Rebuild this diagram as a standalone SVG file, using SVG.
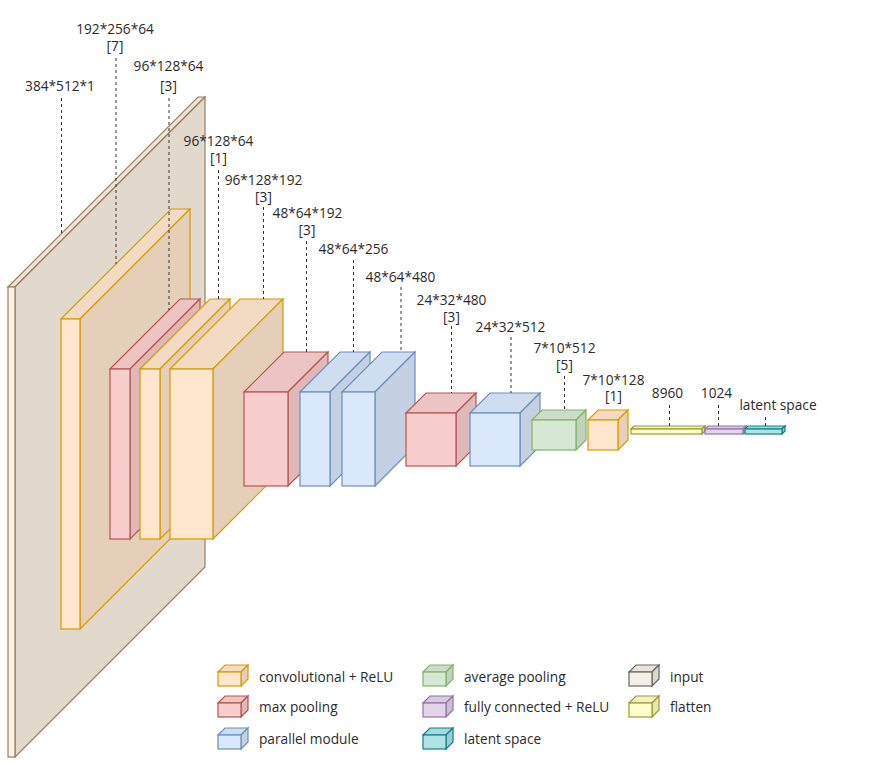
<svg xmlns="http://www.w3.org/2000/svg" width="869" height="763" viewBox="0 0 869 763">
<style>
text{font-family:"Open Sans","Noto Sans","Liberation Sans",sans-serif;font-size:13.7px;fill:#2b2b2b}
.lbl{text-anchor:middle}
.cube rect,.cube polygon{stroke-width:1.2;stroke-linejoin:miter}
.in rect{fill:#fbf3e6;stroke:#9c7d5e}.in .t{fill:#f0e6d6;stroke:#9c7d5e}.in .s{fill:#e1d9cb;stroke:#9c7d5e}
.cv rect{fill:#ffe6cc;stroke:#d79b00}.cv .t{fill:#f2dbc2;stroke:#d79b00}.cv .s{fill:#e6cfb8;stroke:#d79b00}
.mp rect{fill:#f8cecc;stroke:#b85450}.mp .t{fill:#ecc4c2;stroke:#b85450}.mp .s{fill:#dfb9b8;stroke:#b85450}
.pm rect{fill:#dae8fc;stroke:#6c8ebf}.pm .t{fill:#cfddf0;stroke:#6c8ebf}.pm .s{fill:#c4d1e3;stroke:#6c8ebf}
.ap rect{fill:#d5e8d4;stroke:#82b366}.ap .t{fill:#cbddca;stroke:#82b366}.ap .s{fill:#c0d1bf;stroke:#82b366}
.fl rect{fill:#ffffcc;stroke:#999933}.fl .t{fill:#f2f2c2;stroke:#999933}.fl .s{fill:#e6e6b8;stroke:#999933}
.fc rect{fill:#e1d5e7;stroke:#9673a6}.fc .t{fill:#d6cadb;stroke:#9673a6}.fc .s{fill:#cbc0d0;stroke:#9673a6}
.ls rect{fill:#b0e3e6;stroke:#0e8088}.ls .t{fill:#a7d8db;stroke:#0e8088}.ls .s{fill:#9eccce;stroke:#0e8088}
.lin rect{fill:#f5f0e6;stroke:#666666}.lin .t{fill:#e9e4db;stroke:#666666}.lin .s{fill:#dcd8cf;stroke:#666666}
#connectors line{stroke:#333333;stroke-width:1;stroke-dasharray:3 3;fill:none}
</style>
<g id="nodes">
<g id="input" class="cube in" transform="translate(8,287)">
<polygon class="t" points="0,0 190,-190 197,-190 7,0"/>
<polygon class="s" points="7,0 197,-190 197,280 7,470"/>
<rect x="0" y="0" width="7" height="470"/>
</g>
<g id="conv1" class="cube cv" transform="translate(61,319)">
<polygon class="t" points="0,0 110,-110 129,-110 19,0"/>
<polygon class="s" points="19,0 129,-110 129,200 19,310"/>
<rect x="0" y="0" width="19" height="310"/>
</g>
<g id="pool1" class="cube mp" transform="translate(110,369)">
<polygon class="t" points="0,0 70,-70 90,-70 20,0"/>
<polygon class="s" points="20,0 90,-70 90,100 20,170"/>
<rect x="0" y="0" width="20" height="170"/>
</g>
<g id="conv2" class="cube cv" transform="translate(140,369)">
<polygon class="t" points="0,0 70,-70 90,-70 20,0"/>
<polygon class="s" points="20,0 90,-70 90,100 20,170"/>
<rect x="0" y="0" width="20" height="170"/>
</g>
<g id="conv3" class="cube cv" transform="translate(170,369)">
<polygon class="t" points="0,0 70,-70 113,-70 43,0"/>
<polygon class="s" points="43,0 113,-70 113,100 43,170"/>
<rect x="0" y="0" width="43" height="170"/>
</g>
<g id="pool2" class="cube mp" transform="translate(244,392)">
<polygon class="t" points="0,0 40,-40 84,-40 44,0"/>
<polygon class="s" points="44,0 84,-40 84,54 44,94"/>
<rect x="0" y="0" width="44" height="94"/>
</g>
<g id="parallel1" class="cube pm" transform="translate(300,392)">
<polygon class="t" points="0,0 40,-40 70,-40 30,0"/>
<polygon class="s" points="30,0 70,-40 70,54 30,94"/>
<rect x="0" y="0" width="30" height="94"/>
</g>
<g id="parallel2" class="cube pm" transform="translate(342,392)">
<polygon class="t" points="0,0 40,-40 73,-40 33,0"/>
<polygon class="s" points="33,0 73,-40 73,54 33,94"/>
<rect x="0" y="0" width="33" height="94"/>
</g>
<g id="pool3" class="cube mp" transform="translate(406,413)">
<polygon class="t" points="0,0 20,-20 70,-20 50,0"/>
<polygon class="s" points="50,0 70,-20 70,33 50,53"/>
<rect x="0" y="0" width="50" height="53"/>
</g>
<g id="parallel3" class="cube pm" transform="translate(470,413)">
<polygon class="t" points="0,0 20,-20 70,-20 50,0"/>
<polygon class="s" points="50,0 70,-20 70,33 50,53"/>
<rect x="0" y="0" width="50" height="53"/>
</g>
<g id="avgpool" class="cube ap" transform="translate(532,420)">
<polygon class="t" points="0,0 10,-10 54,-10 44,0"/>
<polygon class="s" points="44,0 54,-10 54,20 44,30"/>
<rect x="0" y="0" width="44" height="30"/>
</g>
<g id="conv4" class="cube cv" transform="translate(588,420)">
<polygon class="t" points="0,0 10,-10 40,-10 30,0"/>
<polygon class="s" points="30,0 40,-10 40,20 30,30"/>
<rect x="0" y="0" width="30" height="30"/>
</g>
<g id="flatten" class="cube fl" transform="translate(631,429)">
<polygon class="t" points="0,0 3,-3 74,-3 71,0"/>
<polygon class="s" points="71,0 74,-3 74,2 71,5"/>
<rect x="0" y="0" width="71" height="5"/>
</g>
<g id="fc" class="cube fc" transform="translate(705,429)">
<polygon class="t" points="0,0 3,-3 41,-3 38,0"/>
<polygon class="s" points="38,0 41,-3 41,2 38,5"/>
<rect x="0" y="0" width="38" height="5"/>
</g>
<g id="latent" class="cube ls" transform="translate(745,429)">
<polygon class="t" points="0,0 3,-3 40,-3 37,0"/>
<polygon class="s" points="37,0 40,-3 40,2 37,5"/>
<rect x="0" y="0" width="37" height="5"/>
</g>
</g>
<g id="connectors">
<line x1="61.5" y1="98" x2="61.5" y2="233"/>
<line x1="116" y1="58" x2="116" y2="264"/>
<line x1="169" y1="98" x2="169" y2="310"/>
<line x1="218.5" y1="170" x2="218.5" y2="299"/>
<line x1="263.5" y1="207" x2="263.5" y2="299"/>
<line x1="306.5" y1="241" x2="306.5" y2="352"/>
<line x1="353.5" y1="260" x2="353.5" y2="352"/>
<line x1="401" y1="287" x2="401" y2="352"/>
<line x1="451.5" y1="326" x2="451.5" y2="393"/>
<line x1="511" y1="337" x2="511" y2="393"/>
<line x1="564.5" y1="376" x2="564.5" y2="410"/>
<line x1="669.5" y1="405" x2="669.5" y2="426"/>
<line x1="718.5" y1="405" x2="718.5" y2="426"/>
<line x1="765.5" y1="417" x2="765.5" y2="426"/>
</g>
<g id="labels">
<text class="lbl" x="60" y="91">384*512*1</text>
<text class="lbl" x="115" y="34">192*256*64<tspan x="115" dy="17">[7]</tspan></text>
<text class="lbl" x="168.5" y="71">96*128*64<tspan x="168.5" dy="20">[3]</tspan></text>
<text class="lbl" x="218.5" y="146">96*128*64<tspan x="218.5" dy="17">[1]</tspan></text>
<text class="lbl" x="263.5" y="185">96*128*192<tspan x="263.5" dy="17">[3]</tspan></text>
<text class="lbl" x="307.5" y="218">48*64*192<tspan x="307" dy="17">[3]</tspan></text>
<text class="lbl" x="353.5" y="254">48*64*256</text>
<text class="lbl" x="400.5" y="282">48*64*480</text>
<text class="lbl" x="451.5" y="305">24*32*480<tspan x="451.5" dy="17">[3]</tspan></text>
<text class="lbl" x="510.5" y="332">24*32*512</text>
<text class="lbl" x="564.5" y="353">7*10*512<tspan x="564.5" dy="17">[5]</tspan></text>
<text class="lbl" x="613.5" y="385">7*10*128<tspan x="613.5" dy="16">[1]</tspan></text>
<text class="lbl" x="667.5" y="398">8960</text>
<text class="lbl" x="716.5" y="398">1024</text>
<text class="lbl" x="778" y="410">latent space</text>
</g>
<g id="legend">
<g id="leg-conv"><g class="cube cv" transform="translate(218,672)"><polygon class="t" points="0,0 7,-7 30,-7 23,0"/><polygon class="s" points="23,0 30,-7 30,7 23,14"/><rect x="0" y="0" width="23" height="14"/></g><text x="259" y="681.5">convolutional + ReLU</text></g>
<g id="leg-maxpool"><g class="cube mp" transform="translate(218,703)"><polygon class="t" points="0,0 7,-7 30,-7 23,0"/><polygon class="s" points="23,0 30,-7 30,7 23,14"/><rect x="0" y="0" width="23" height="14"/></g><text x="259" y="712">max pooling</text></g>
<g id="leg-parallel"><g class="cube pm" transform="translate(218,735)"><polygon class="t" points="0,0 7,-7 30,-7 23,0"/><polygon class="s" points="23,0 30,-7 30,7 23,14"/><rect x="0" y="0" width="23" height="14"/></g><text x="259" y="743.5">parallel module</text></g>
<g id="leg-avg"><g class="cube ap" transform="translate(423,672)"><polygon class="t" points="0,0 7,-7 30,-7 23,0"/><polygon class="s" points="23,0 30,-7 30,7 23,14"/><rect x="0" y="0" width="23" height="14"/></g><text x="464" y="681.5">average pooling</text></g>
<g id="leg-fc"><g class="cube fc" transform="translate(423,703)"><polygon class="t" points="0,0 7,-7 30,-7 23,0"/><polygon class="s" points="23,0 30,-7 30,7 23,14"/><rect x="0" y="0" width="23" height="14"/></g><text x="464" y="712">fully connected + ReLU</text></g>
<g id="leg-latent"><g class="cube ls" transform="translate(423,735)"><polygon class="t" points="0,0 7,-7 30,-7 23,0"/><polygon class="s" points="23,0 30,-7 30,7 23,14"/><rect x="0" y="0" width="23" height="14"/></g><text x="464" y="743.5">latent space</text></g>
<g id="leg-input"><g class="cube lin" transform="translate(629,672)"><polygon class="t" points="0,0 7,-7 30,-7 23,0"/><polygon class="s" points="23,0 30,-7 30,7 23,14"/><rect x="0" y="0" width="23" height="14"/></g><text x="670" y="681.5">input</text></g>
<g id="leg-flatten"><g class="cube fl" transform="translate(629,703)"><polygon class="t" points="0,0 7,-7 30,-7 23,0"/><polygon class="s" points="23,0 30,-7 30,7 23,14"/><rect x="0" y="0" width="23" height="14"/></g><text x="670" y="712">flatten</text></g>
</g>
</svg>
